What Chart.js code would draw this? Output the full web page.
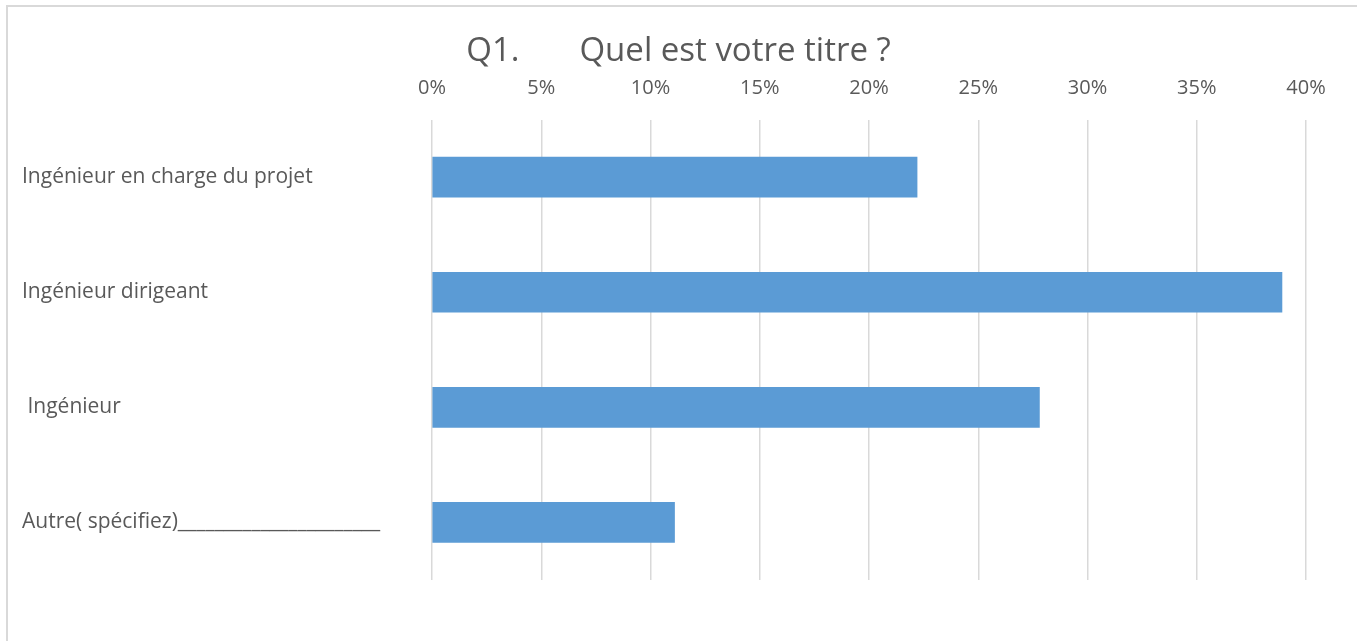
<!DOCTYPE html>
<html>
<head>
<meta charset="utf-8">
<script src="https://cdn.jsdelivr.net/npm/chart.js@4"></script>
<style>
  body { margin: 0; background: #fff; }
  #wrap { position: relative; width: 1357px; height: 641px; }
  #frame { position: absolute; left: 6px; top: 5px; right: 0; bottom: 0;
           border-top: 2px solid #d9d9d9; border-left: 2px solid #d9d9d9; pointer-events: none; }
</style>
</head>
<body>
<div id="wrap">
  <canvas id="chart" width="1357" height="641"></canvas>
  <div id="frame"></div>
</div>
<script>
const titleText = "Q1.       Quel est votre titre ?";
const categories = [
    "Ingénieur en charge du projet",
    "Ingénieur dirigeant",
    " Ingénieur",
    "Autre( spécifiez)______________________"
];
const shares = [22.2, 38.9, 27.8, 11.1];
const tickMax = 40;
const tickStep = 5;

const textColor = '#595959';

// centre the title on the whole canvas like the original, not on the padded box
const titleCentre = {
    id: 'titleCentre',
    afterLayout(chart) {
        if (chart.titleBlock) {
            chart.titleBlock.left = 0;
            chart.titleBlock.right = chart.width;
        }
    }
};

const chart = new Chart(document.getElementById("chart"), {
    type: 'bar',
    data: {
        labels: categories,
        datasets: [{
            data: shares,
            backgroundColor: '#5b9bd5',
            barThickness: 40
        }]
    },
    options: {
        indexAxis: 'y',
        responsive: false,
        animation: false,
        layout: { padding: { left: 22, right: 51, top: 0, bottom: 61 } },
        plugins: {
            legend: { display: false },
            tooltip: { enabled: false },
            title: {
                display: true,
                text: titleText,
                color: textColor,
                font: { family: 'Open Sans', size: 33, weight: 'normal' },
                padding: { top: 32, bottom: 3 }
            }
        },
        scales: {
            x: {
                position: 'top',
                min: 0,
                max: tickMax,
                border: { display: false },
                grid: { color: '#d9d9d9', lineWidth: 1.5, drawTicks: false },
                ticks: {
                    stepSize: tickStep,
                    padding: 19,
                    color: textColor,
                    font: { family: 'Open Sans', size: 20 },
                    callback: v => v + '%'
                },
                afterFit: s => { s.height = 45; }
            },
            y: {
                border: { display: false },
                grid: { display: false, drawTicks: false },
                ticks: {
                    crossAlign: 'far',
                    color: textColor,
                    font: { family: 'Open Sans', size: 21 }
                },
                afterFit: s => { s.width = 410; }
            }
        }
    },
    plugins: [titleCentre]
});
</script>
</body>
</html>
